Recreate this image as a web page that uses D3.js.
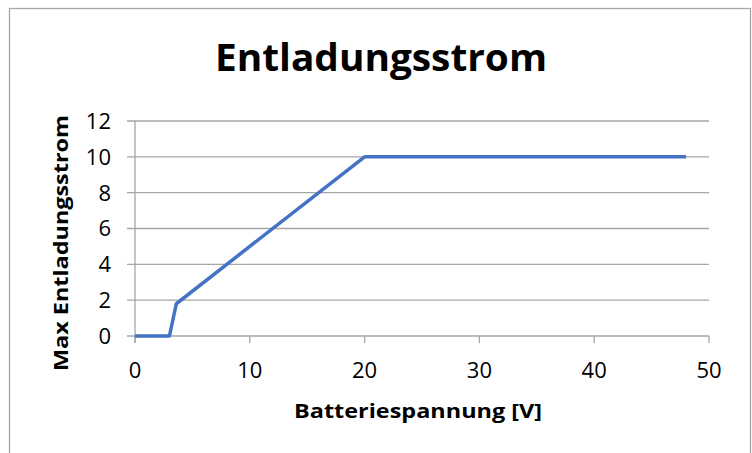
<!DOCTYPE html>
<html>
<head>
<meta charset="utf-8">
<script src="https://cdn.jsdelivr.net/npm/d3@7"></script>
<style>
  body { margin: 0; background: #fff; }
  text { font-family: "Open Sans", "Liberation Sans", sans-serif; }
</style>
</head>
<body>
<svg id="chart" width="752" height="453"></svg>
<script>
// Daten
const voltage = [0, 3, 3.6, 20, 48];
const current = [0, 0, 1.8, 10, 10];
const xTicks = [0, 10, 20, 30, 40, 50];
const yTicks = [0, 2, 4, 6, 8, 10, 12];

const svg = d3.select("#chart");
const margin = { left: 135, right: 43, top: 121, bottom: 117 };
const width = +svg.attr("width");
const height = +svg.attr("height");

// Rahmen
svg.append("rect")
  .attr("x", 9.5).attr("y", 8.5)
  .attr("width", 741).attr("height", 460)
  .attr("fill", "#fff")
  .attr("stroke", "#a6a6a6")
  .attr("stroke-width", 1.3);

const x = d3.scaleLinear().domain([0, 50]).range([margin.left, width - margin.right]);
const y = d3.scaleLinear().domain([0, 12]).range([height - margin.bottom, margin.top]);

// Gitterlinien
svg.append("g")
  .selectAll("line")
  .data(yTicks)
  .join("line")
  .attr("x1", x(0) - 8).attr("x2", x(50))
  .attr("y1", d => y(d)).attr("y2", d => y(d))
  .attr("stroke", "#a6a6a6")
  .attr("stroke-width", 1.3);

// y-Achse
svg.append("line")
  .attr("x1", x(0)).attr("x2", x(0))
  .attr("y1", y(12)).attr("y2", y(0) + 7)
  .attr("stroke", "#a6a6a6").attr("stroke-width", 1.3);

svg.append("g")
  .selectAll("text")
  .data(yTicks)
  .join("text")
  .attr("x", 111)
  .attr("y", d => y(d))
  .attr("dy", "0.36em")
  .attr("text-anchor", "end")
  .attr("font-size", 22)
  .attr("fill", "#000")
  .text(d => d);

// x-Achse Teilstriche
svg.append("g")
  .selectAll("line")
  .data(xTicks)
  .join("line")
  .attr("x1", d => x(d)).attr("x2", d => x(d))
  .attr("y1", y(0)).attr("y2", y(0) + 7)
  .attr("stroke", "#a6a6a6").attr("stroke-width", 1.3);

svg.append("g")
  .selectAll("text")
  .data(xTicks)
  .join("text")
  .attr("x", d => x(d))
  .attr("y", 378)
  .attr("text-anchor", "middle")
  .attr("font-size", 22)
  .attr("fill", "#000")
  .text(d => d);

// Kurve
const pts = voltage.map((v, i) => [v, current[i]]);
svg.append("path")
  .datum(pts)
  .attr("d", d3.line().x(d => x(d[0])).y(d => y(d[1])))
  .attr("fill", "none")
  .attr("stroke", "#4472c4")
  .attr("stroke-width", 3.5)
  .attr("stroke-linejoin", "round");

// Titel
svg.append("text")
  .attr("x", 381).attr("y", 71)
  .attr("text-anchor", "middle")
  .attr("font-size", 38)
  .attr("font-weight", "bold")
  .attr("textLength", 332)
  .attr("lengthAdjust", "spacingAndGlyphs")
  .text("Entladungsstrom");

// Achsentitel
svg.append("text")
  .attr("x", 418).attr("y", 418)
  .attr("text-anchor", "middle")
  .attr("font-size", 20)
  .attr("font-weight", "bold")
  .attr("textLength", 248)
  .attr("lengthAdjust", "spacingAndGlyphs")
  .text("Batteriespannung [V]");

svg.append("text")
  .attr("transform", "translate(68,243) rotate(-90)")
  .attr("text-anchor", "middle")
  .attr("font-size", 20)
  .attr("font-weight", "bold")
  .attr("textLength", 256)
  .attr("lengthAdjust", "spacingAndGlyphs")
  .text("Max Entladungsstrom");
</script>
</body>
</html>
